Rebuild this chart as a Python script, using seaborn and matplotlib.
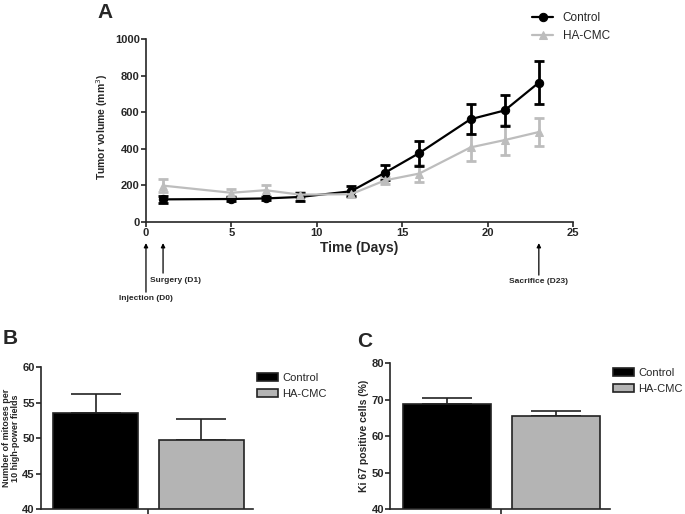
import numpy as np
import pandas as pd
import matplotlib
matplotlib.use("Agg")
import matplotlib.pyplot as plt
import seaborn as sns

# Panel A - tumor volume over time
days = [1, 5, 7, 9, 12, 14, 16, 19, 21, 23]
ctrl_vol = [124, 126, 129, 137, 168, 270, 377, 562, 610, 762]
ctrl_err = [18, 10, 10, 20, 28, 42, 68, 82, 86, 119]
ha_vol = [199, 160, 174, 150, 152, 228, 265, 408, 448, 492]
ha_err = [36, 20, 30, 15, 15, 20, 45, 73, 82, 78]

# Panel B - mitoses
groups = ["Control", "HA-CMC"]
mitoses = [53.5, 49.7]
mitoses_sem = [2.75, 3.0]

# Panel C - Ki67
ki67 = [68.7, 65.4]
ki67_sem = [1.7, 1.35]

events = [(0, "Injection (D0)"), (1, "Surgery (D1)"), (23, "Sacrifice (D23)")]

sns.set_style("ticks")
plt.rcParams['font.family'] = ['Liberation Sans', 'DejaVu Sans']
plt.rcParams['axes.linewidth'] = 1.2
plt.rcParams['xtick.major.width'] = 1.2
plt.rcParams['ytick.major.width'] = 1.2

colors = {"Control": "black", "HA-CMC": "#bdbdbd"}
bar_colors = {"Control": "black", "HA-CMC": "#b4b4b4"}

fig = plt.figure(figsize=(6.85, 5.14), dpi=100)

#%% Panel A
axA = fig.add_axes([0.2131, 0.568, 0.6234, 0.356])
dfA = pd.DataFrame({
    "day": days + days,
    "vol": ctrl_vol + ha_vol,
    "err": ctrl_err + ha_err,
    "group": ["Control"] * len(days) + ["HA-CMC"] * len(days),
})
for g in ["HA-CMC", "Control"]:
    sub = dfA[dfA.group == g]
    axA.errorbar(sub.day, sub.vol, yerr=sub.err, fmt="none", ecolor=colors[g],
                 elinewidth=2, capsize=3.5, capthick=2, zorder=2)
sns.lineplot(data=dfA, x="day", y="vol", hue="group", style="group",
             markers={"Control": "o", "HA-CMC": "^"}, dashes=False,
             palette=colors, hue_order=groups, style_order=groups,
             linewidth=1.6, markersize=6, markeredgecolor=None,
             ax=axA, zorder=3)
axA.set_xlim(0, 25)
axA.set_ylim(0, 1000)
axA.set_xticks([0, 5, 10, 15, 20, 25])
axA.set_yticks([0, 200, 400, 600, 800, 1000])
axA.set_xlabel("Time (Days)", fontsize=10, fontweight="bold", labelpad=2)
axA.set_ylabel("Tumor volume (mm$^3$)", fontsize=7.5, fontweight="bold")
axA.yaxis.set_label_coords(-0.084, 0.52)
for lab in axA.get_xticklabels() + axA.get_yticklabels():
    lab.set_fontweight("bold")
axA.tick_params(labelsize=8, length=3.5, pad=1)
sns.despine(ax=axA)
axA.legend(title=None, loc="upper left", bbox_to_anchor=(0.89, 1.18),
           frameon=False, fontsize=8.5, handlelength=1.8, labelspacing=0.5,
           borderpad=0)

tip_y = -0.115
tails = {0: -0.383, 1: -0.279, 23: -0.29}
for d, txt in events:
    axA.annotate("", xy=(d, tip_y), xytext=(d, tails[d]),
                 xycoords=("data", "axes fraction"),
                 textcoords=("data", "axes fraction"),
                 arrowprops=dict(arrowstyle="-|>", lw=0.9, color="black",
                                 mutation_scale=6, shrinkA=0, shrinkB=0),
                 annotation_clip=False)
axA.text(0, -0.40, events[0][1], transform=axA.get_xaxis_transform(),
         ha="center", va="top", fontsize=6, fontweight="bold")
axA.text(0.25, -0.30, events[1][1], transform=axA.get_xaxis_transform(),
         ha="left", va="top", fontsize=6, fontweight="bold")
axA.text(23, -0.305, events[2][1], transform=axA.get_xaxis_transform(),
         ha="center", va="top", fontsize=6, fontweight="bold")
fig.text(0.143, 0.995, "A", fontsize=15, fontweight="bold", va="top")


#%% Panels B and C
def bar_panel(ax, vals, sems, ylim, yticks, ylabel, xlim, ylabel_size, labx,
              legxy, lsp=1.0):
    df = pd.DataFrame({"x": ["", ""], "group": groups, "val": vals})
    sns.barplot(data=df, x="x", y="val", hue="group", hue_order=groups,
                palette=bar_colors, errorbar=None, gap=0.2, width=0.8,
                edgecolor="#222222", linewidth=1.2, ax=ax, zorder=2)
    bars = [c[0] for c in ax.containers]
    for p, v, s in zip(bars, vals, sems):
        ax.errorbar(p.get_x() + p.get_width() / 2, v, yerr=[[0], [s]],
                    fmt="none", ecolor="#222222", elinewidth=1.2,
                    capsize=18, capthick=1.2, zorder=1)
    ax.set_ylim(*ylim)
    ax.set_yticks(yticks)
    ax.set_xlim(*xlim)
    ax.set_xlabel("")
    ax.set_ylabel(ylabel, fontsize=ylabel_size, fontweight="bold",
                  linespacing=lsp)
    ax.yaxis.set_label_coords(labx, 0.5)
    for lab in ax.get_yticklabels():
        lab.set_fontweight("bold")
    ax.tick_params(labelsize=8, length=3.5, pad=1)
    sns.despine(ax=ax)
    ax.legend(title=None, loc="upper left", bbox_to_anchor=legxy,
              frameon=False, fontsize=8, handlelength=1.9, handleheight=0.75,
              handletextpad=0.4, labelspacing=0.55, borderpad=0,
              borderaxespad=0)


axB = fig.add_axes([0.0599, 0.0097, 0.309, 0.276])
bar_panel(axB, mitoses, mitoses_sem, (40, 60), [40, 45, 50, 55, 60],
          "Number of mitoses per\n10 high-power fields", (-0.406, 0.394), 6.5,
          -0.099, (1.019, 0.958), lsp=0.95)
fig.text(0.004, 0.36, "B", fontsize=15, fontweight="bold", va="top")

axC = fig.add_axes([0.570, 0.0097, 0.320, 0.284])
bar_panel(axC, ki67, ki67_sem, (40, 80), [40, 50, 60, 70, 80],
          "Ki 67 positive cells (%)", (-0.407, 0.397), 7.5, -0.099,
          (1.014, 0.966))
fig.text(0.521, 0.355, "C", fontsize=15, fontweight="bold", va="top")

fig.savefig("out.png", dpi=100)
